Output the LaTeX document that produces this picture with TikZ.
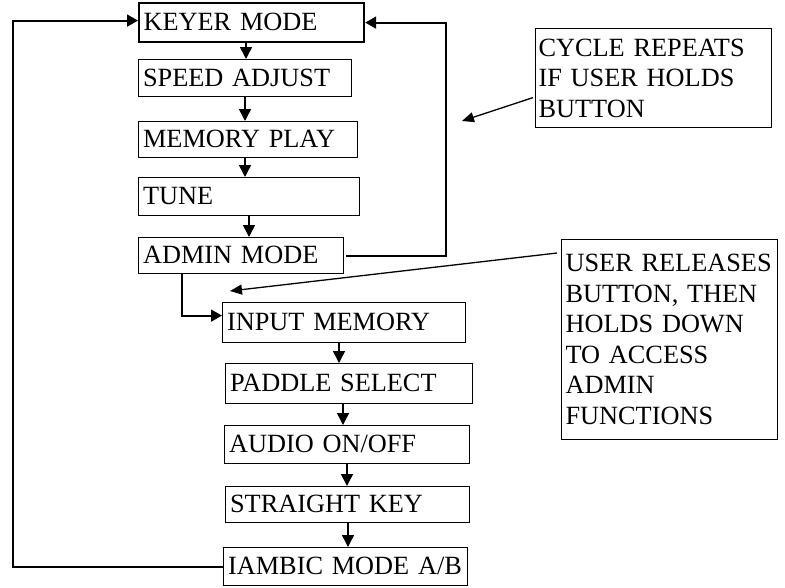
\documentclass[tikz,border=0pt]{standalone}
\usepackage{fontspec}
\setmainfont{Liberation Serif}
\usetikzlibrary{arrows.meta,calc}
\begin{document}
\begin{tikzpicture}[x=1pt,y=-1pt,
  font=\fontsize{26.3}{30.5}\selectfont,
  box/.style={draw, line width=1.2pt, anchor=north west, inner xsep=4.5pt, inner ysep=0pt, align=left, text height=18pt, text depth=2pt},
  callout/.style={draw, line width=1.2pt, anchor=north west, inner ysep=0pt, align=left},
  arr/.style={line width=1.5pt, -{Triangle[length=12pt,width=12pt]}},
  loopline/.style={line width=1.8pt, -{Triangle[length=11pt,width=12pt]}},
  note/.style={line width=1.3pt, -{Triangle[length=12pt,width=10pt]}}]
\useasboundingbox (0,0) rectangle (785,587);

% left column
\node[box, line width=2.2pt, text width=216pt, minimum height=39pt] (keyer) at (138,2) {\mbox{KEYER MODE}};
\node[box, text width=204pt, minimum height=37pt] (speed) at (138,59) {\mbox{SPEED ADJUST}};
\node[box, text width=210pt, minimum height=36pt] (memory) at (138,121) {\mbox{MEMORY PLAY}};
\node[box, text width=212pt, minimum height=38pt] (tune) at (138,177) {TUNE};
\node[box, text width=196pt, minimum height=36pt] (admin) at (138,237) {\mbox{ADMIN MODE}};

% right column
\node[box, text width=234pt, minimum height=40pt] (input) at (222,302) {\mbox{INPUT MEMORY}};
\node[box, text width=238pt, minimum height=40pt] (paddle) at (225,363) {\mbox{PADDLE SELECT}};
\node[box, text width=236pt, minimum height=38pt] (audio) at (224,425) {\mbox{AUDIO ON/OFF}};
\node[box, text width=235pt, minimum height=36pt] (straight) at (225,486) {\mbox{STRAIGHT KEY}};
\node[box, text width=235pt, minimum height=38pt] (iambic) at (223,547) {\mbox{IAMBIC MODE A/B}};

% callouts
\node[callout, inner xsep=3pt, text width=230pt, minimum height=99pt] (cycle) at (535,28)
  {\mbox{CYCLE REPEATS}\\\mbox{IF USER HOLDS}\\BUTTON};
\node[callout, inner xsep=4pt, text width=208pt, minimum height=200pt] (release) at (561,239)
  {\mbox{USER RELEASES}\\\mbox{BUTTON, THEN}\\\mbox{HOLDS DOWN}\\\mbox{TO ACCESS}\\ADMIN\\FUNCTIONS};

\coordinate (ctip) at (462,121);
\coordinate (rtip) at (230,291);

% chain arrows
\draw[arr] ([xshift=108pt]keyer.south west) -- ([xshift=108pt]speed.north west);
\draw[arr] ([xshift=107pt]speed.south west) -- ([xshift=107pt]memory.north west);
\draw[arr] ([xshift=107pt]memory.south west) -- ([xshift=107pt]tune.north west);
\draw[arr] ([xshift=111pt]tune.south west) -- ([xshift=111pt]admin.north west);
\draw[arr] ([xshift=117pt]input.south west) -- ([xshift=114pt]paddle.north west);
\draw[arr] ([xshift=118pt]paddle.south west) -- ([xshift=119pt]audio.north west);
\draw[arr] ([xshift=123pt]audio.south west) -- ([xshift=122pt]straight.north west);
\draw[arr] ([xshift=123pt]straight.south west) -- ([xshift=125pt]iambic.north west);

% admin to input
\draw[loopline] ([xshift=44pt]admin.south west) |- ([yshift=7pt]input.west);

% loops back to keyer
\draw[loopline] ([xshift=2pt]admin.east) -- ++(100,0) |- (keyer.east);
\draw[loopline] (iambic.west) -- ++(-210,0) |- ([yshift=2pt]keyer.west);

% callout pointers
\draw[note] ([xshift=-2pt,yshift=-19.5pt]cycle.west) -- (ctip);
\draw[note] ([xshift=-4pt,yshift=-14pt]release.north west) -- (rtip);
\end{tikzpicture}
\end{document}
